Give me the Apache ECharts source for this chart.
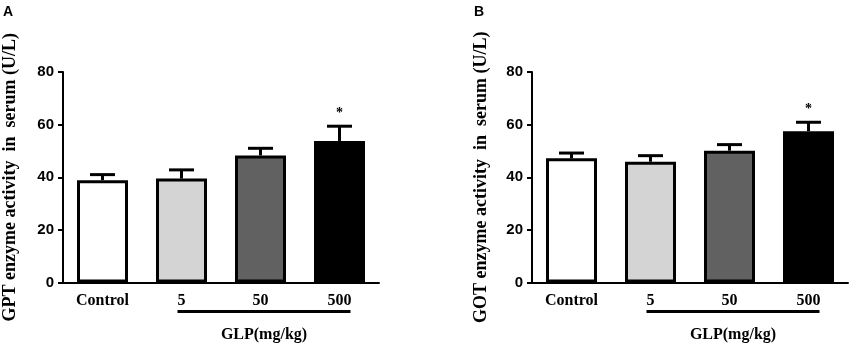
<!DOCTYPE html>
<html>
<head>
<meta charset="utf-8">
<script src="https://cdn.jsdelivr.net/npm/echarts@6/dist/echarts.min.js"></script>
<style>
  html, body { margin: 0; padding: 0; background: #fff; }
  #chart { width: 850px; height: 346px; }
</style>
</head>
<body>
<div id="chart"></div>
<script>
const categories = ['Control', '5', '50', '500']
const gptMean = [38.9, 39.5, 48.3, 53.8]
const gptUpper = [41.0, 42.8, 51.0, 59.4]
const gptSig = ['', '', '', '*']
const gotMean = [47.2, 45.9, 50.1, 57.5]
const gotUpper = [49.2, 48.2, 52.4, 60.9]
const gotSig = ['', '', '', '*']
const barColors = ['#ffffff', '#d4d4d4', '#616161', '#000000']
const doseLabel = 'GLP(mg/kg)'

const serif = '"Liberation Serif", "Times New Roman", serif'
const sans = '"Liberation Sans", Arial, sans-serif'

const chart = echarts.init(document.getElementById('chart'))

function errRenderer(sig) {
  return function (params, api) {
    const i = api.value(0)
    const base = api.coord([i, api.value(1)])
    const top = api.coord([i, api.value(2)])
    const half = 12.5
    const children = [
      { type: 'line', shape: { x1: base[0], y1: base[1], x2: top[0], y2: top[1] },
        style: { stroke: '#000', lineWidth: 3 } },
      { type: 'line', shape: { x1: top[0] - half, y1: top[1], x2: top[0] + half, y2: top[1] },
        style: { stroke: '#000', lineWidth: 3 } }
    ]
    if (sig[params.dataIndex]) {
      children.push({
        type: 'text',
        style: { text: sig[params.dataIndex], x: top[0], y: top[1] - 6,
          align: 'center', verticalAlign: 'bottom',
          font: 'bold 14px ' + serif, fill: '#000' }
      })
    }
    return { type: 'group', children }
  }
}

function xAxisCfg(gridIndex) {
  return {
    type: 'category',
    gridIndex,
    data: categories,
    axisLine: { lineStyle: { color: '#000', width: 2 } },
    axisTick: { alignWithLabel: true, length: 5, lineStyle: { color: '#000', width: 2 } },
    axisLabel: { color: '#000', fontFamily: serif, fontWeight: 'bold', fontSize: 16, margin: 10 }
  }
}

function yAxisCfg(gridIndex, name, gap) {
  return {
    type: 'value',
    gridIndex,
    min: 0,
    max: 80,
    interval: 20,
    name,
    nameLocation: 'middle',
    nameGap: gap,
    nameTextStyle: { color: '#000', fontFamily: serif, fontWeight: 'bold', fontSize: 18 },
    axisLine: { show: true, lineStyle: { color: '#000', width: 2 } },
    axisTick: { show: true, length: 5, lineStyle: { color: '#000', width: 2 } },
    axisLabel: { color: '#000', fontFamily: sans, fontWeight: 'bold', fontSize: 15, margin: 9 },
    splitLine: { show: false }
  }
}

function barSeries(idx, values) {
  return {
    type: 'bar',
    xAxisIndex: idx,
    yAxisIndex: idx,
    barWidth: 51,
    data: values.map((v, i) => ({
      value: v,
      itemStyle: { color: barColors[i], borderColor: '#000', borderWidth: 3 }
    })),
    silent: true
  }
}

function errSeries(idx, mean, upper, sig) {
  return {
    type: 'custom',
    xAxisIndex: idx,
    yAxisIndex: idx,
    renderItem: errRenderer(sig),
    data: mean.map((m, i) => [i, m, upper[i]]),
    z: 5,
    silent: true
  }
}

chart.setOption({
  animation: false,
  grid: [
    { left: 63, top: 72, width: 316, height: 210.5, outerBoundsMode: 'none' },
    { left: 532, top: 72, width: 316, height: 210.5, outerBoundsMode: 'none' }
  ],
  xAxis: [xAxisCfg(0), xAxisCfg(1)],
  yAxis: [
    yAxisCfg(0, 'GPT enzyme activity  in  serum (U/L)', 44),
    yAxisCfg(1, 'GOT enzyme activity  in  serum (U/L)', 42)
  ],
  series: [
    barSeries(0, gptMean),
    errSeries(0, gptMean, gptUpper, gptSig),
    barSeries(1, gotMean),
    errSeries(1, gotMean, gotUpper, gotSig)
  ]
})

// dose bracket and its label under the GLP groups, placed from the axes
const extras = [
  { type: 'text', left: 3, top: 5, style: { text: 'A', font: 'bold 14px ' + sans, fill: '#000' } },
  { type: 'text', left: 474, top: 5, style: { text: 'B', font: 'bold 14px ' + sans, fill: '#000' } }
]
;[0, 1].forEach(idx => {
  const x1 = chart.convertToPixel({ xAxisIndex: idx }, categories[1]) - 4
  const x2 = chart.convertToPixel({ xAxisIndex: idx }, categories[3]) + 11
  const y0 = chart.convertToPixel({ yAxisIndex: idx }, 0)
  extras.push({
    type: 'line',
    shape: { x1, y1: y0 + 29, x2, y2: y0 + 29 },
    style: { stroke: '#000', lineWidth: 3 }
  })
  extras.push({
    type: 'text',
    style: { text: doseLabel, x: (x1 + x2) / 2, y: y0 + 52,
      align: 'center', verticalAlign: 'middle',
      font: 'bold 16px ' + serif, fill: '#000' }
  })
})
chart.setOption({ graphic: extras })
</script>
</body>
</html>
